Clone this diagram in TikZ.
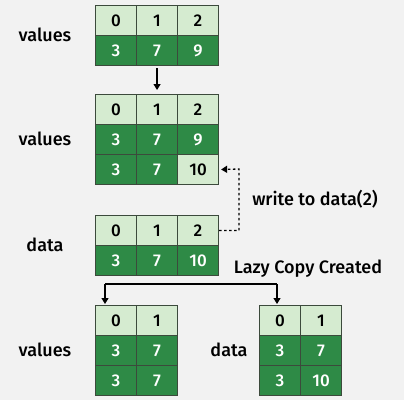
\documentclass[tikz,border=0pt]{standalone}
\usepackage{fontspec}
\setmainfont{Fira Sans}[BoldFont={Fira Sans Medium}]
\usetikzlibrary{arrows.meta}
\definecolor{bgc}{HTML}{F2F2F2}
\definecolor{lightg}{HTML}{D5EBD0}
\definecolor{darkg}{HTML}{2E8A46}
\definecolor{edgec}{HTML}{3C4A3C}
\tikzset{
  cellbase/.style={draw=edgec, line width=1.1pt, minimum width=41pt, minimum height=30pt, inner sep=0pt, anchor=north west, font=\fontsize{17}{19}\selectfont\bfseries},
  lc/.style={cellbase, fill=lightg, text=black},
  dc/.style={cellbase, fill=darkg, text=white},
  lbl/.style={font=\fontsize{18}{21}\selectfont\bfseries, text=black},
  arr/.style={-{Triangle[length=6pt,width=7pt]}, line width=1.2pt},
}
\newcommand{\mycell}[5]{\node[#1] (#2) at (#3,#4) {#5};}
\begin{document}
\begin{tikzpicture}[x=1pt,y=-1pt]
\fill[bgc] (0,0) rectangle (404,400);
\useasboundingbox (0,0) rectangle (404,400);
% grid A
\mycell{lc}{a00}{95}{5}{0}\mycell{lc}{a01}{136}{5}{1}\mycell{lc}{a02}{177}{5}{2}
\mycell{dc}{a10}{95}{35}{3}\mycell{dc}{a11}{136}{35}{7}\mycell{dc}{a12}{177}{35}{9}
% grid B
\mycell{lc}{b00}{95}{94}{0}\mycell{lc}{b01}{136}{94}{1}\mycell{lc}{b02}{177}{94}{2}
\mycell{dc}{b10}{95}{124}{3}\mycell{dc}{b11}{136}{124}{7}\mycell{dc}{b12}{177}{124}{9}
\mycell{dc}{b20}{95}{154}{3}\mycell{dc}{b21}{136}{154}{7}\mycell{lc}{b22}{177}{154}{10}
% grid C
\mycell{lc}{c00}{95}{215}{0}\mycell{lc}{c01}{136}{215}{1}\mycell{lc}{c02}{177}{215}{2}
\mycell{dc}{c10}{95}{245}{3}\mycell{dc}{c11}{136}{245}{7}\mycell{dc}{c12}{177}{245}{10}
% grid D
\mycell{lc}{d00}{95}{305}{0}\mycell{lc}{d01}{136}{305}{1}
\mycell{dc}{d10}{95}{335}{3}\mycell{dc}{d11}{136}{335}{7}
\mycell{dc}{d20}{95}{365}{3}\mycell{dc}{d21}{136}{365}{7}
% grid E
\mycell{lc}{e00}{259}{305}{0}\mycell{lc}{e01}{300}{305}{1}
\mycell{dc}{e10}{259}{335}{3}\mycell{dc}{e11}{300}{335}{7}
\mycell{dc}{e20}{259}{365}{3}\mycell{dc}{e21}{300}{365}{10}
% labels
\node[lbl] (lA) at (45,35) {values};
\node[lbl] (lB) at (45,139) {values};
\node[lbl] (lC) at (45,245) {data};
\node[lbl] (lD) at (45,350) {values};
\node[lbl] (lE) at (229,350) {data};
\node[lbl] (lw) at (315,199) {write to data(2)};
\node[lbl] (ll) at (308,269) {Lazy Copy Created};
% arrows
\draw[arr, shorten <=2pt, shorten >=4pt] (a11.south) -- (b01.north);
\coordinate (dcor1) at (239,230);
\coordinate (dcor2) at (239,169);
\draw[arr, dash pattern=on 2.5pt off 2.5pt, line width=1.3pt, shorten >=2pt] (c02.east) -- (c02.east -| dcor1) -- (dcor2) -- (b22.east);
\coordinate (jl) at (105,284);
\coordinate (jr) at (277,284);
\coordinate (tl) at (105,305);
\coordinate (tr) at (277,305);
\draw[arr, shorten >=1pt] (jl) -- (tl);
\draw[arr, shorten >=1pt] (jr) -- (tr);
\draw[line width=1.2pt] (jl) -- (jr);
\end{tikzpicture}
\end{document}
